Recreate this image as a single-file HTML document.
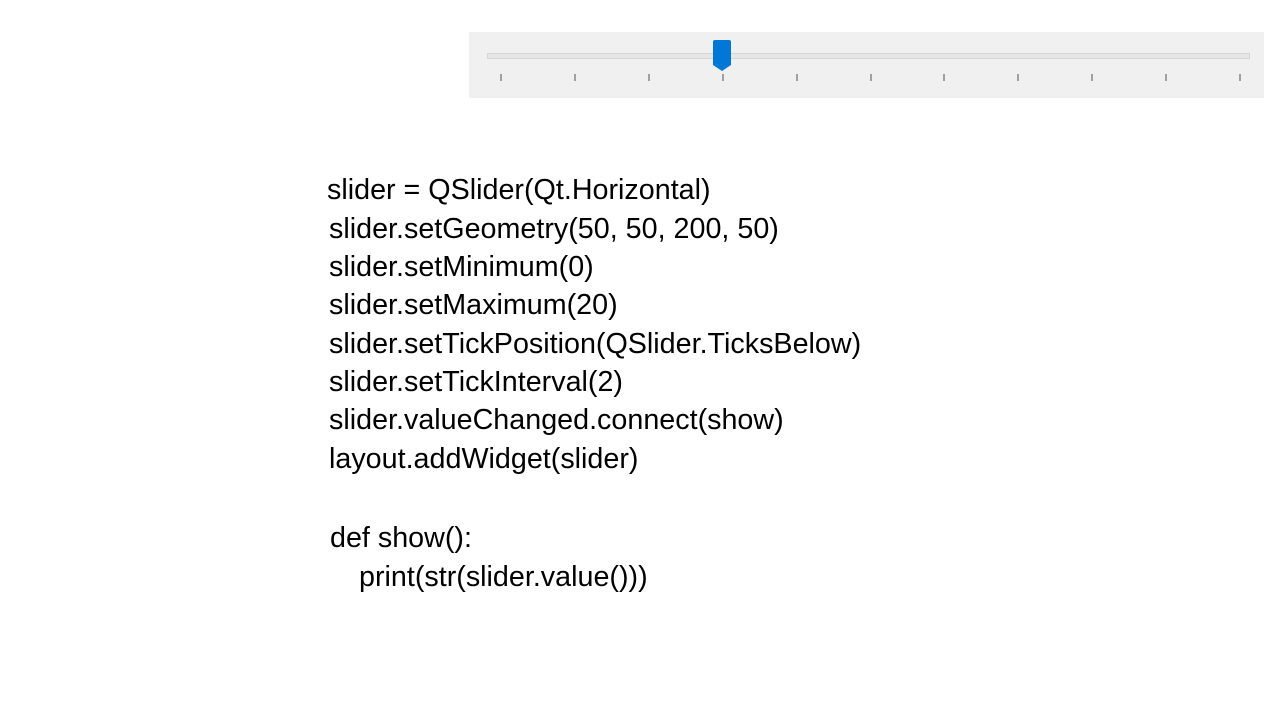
<!DOCTYPE html>
<html><head><style>
body{margin:0;width:1280px;height:720px;background:#fff;position:relative;overflow:hidden;font-family:"Liberation Sans",sans-serif;}
.p{position:absolute;left:469px;top:32px;width:795px;height:66px;background:#f0f0f0;}
.tr{position:absolute;left:487px;top:53px;width:763px;height:6px;background:#e7e7e7;border:1px solid #d6d6d6;box-sizing:border-box;}
.tk{position:absolute;top:74px;width:2px;height:7px;background:#a0a0a0;}
.l{position:absolute;left:329px;font-size:28.5px;color:#000;white-space:pre;line-height:1;transform:scaleX(1.007);transform-origin:left;}
</style></head><body>
<div class="p"></div>
<div class="tr"></div>
<svg style="position:absolute;left:712px;top:39px" width="20" height="34"><path d="M3 1 H17 Q19 1 19 3 V26 L10 32 L1 26 V3 Q1 1 3 1 Z" fill="#0078d7"/></svg>
<div class="tk" style="left:500px"></div><div class="tk" style="left:574px"></div><div class="tk" style="left:648px"></div><div class="tk" style="left:722px"></div><div class="tk" style="left:796px"></div><div class="tk" style="left:870px"></div><div class="tk" style="left:943px"></div><div class="tk" style="left:1017px"></div><div class="tk" style="left:1091px"></div><div class="tk" style="left:1165px"></div><div class="tk" style="left:1239px"></div>
<div class="l" style="top:176px;left:327px">slider = QSlider(Qt.Horizontal)</div>
<div class="l" style="top:215px">slider.setGeometry(50, 50, 200, 50)</div>
<div class="l" style="top:253px">slider.setMinimum(0)</div>
<div class="l" style="top:291px">slider.setMaximum(20)</div>
<div class="l" style="top:330px">slider.setTickPosition(QSlider.TicksBelow)</div>
<div class="l" style="top:368px">slider.setTickInterval(2)</div>
<div class="l" style="top:406px">slider.valueChanged.connect(show)</div>
<div class="l" style="top:445px">layout.addWidget(slider)</div>
<div class="l" style="top:524px;left:330px">def show():</div>
<div class="l" style="top:563px;left:359px">print(str(slider.value()))</div>
</body></html>
